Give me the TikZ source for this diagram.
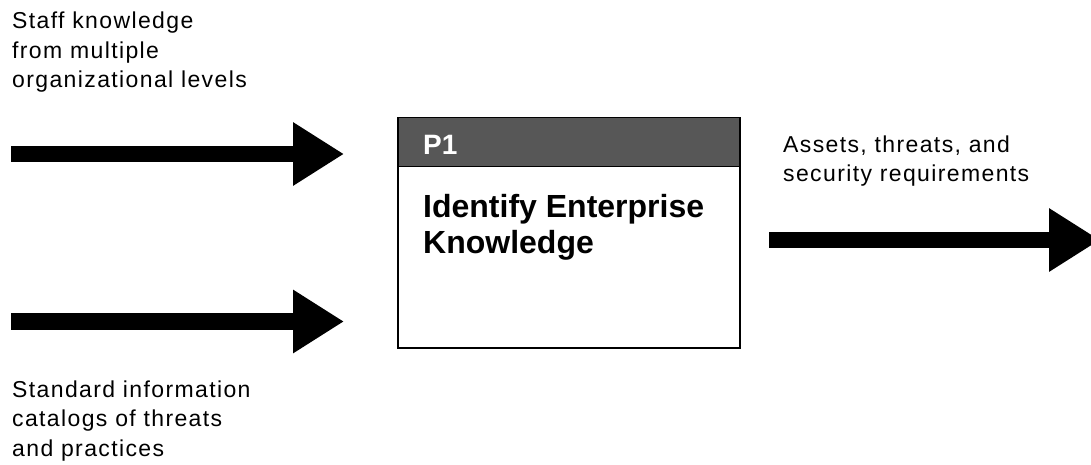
\documentclass[tikz,border=0pt]{standalone}
\usepackage{fontspec}
\setmainfont{Liberation Sans}
\newfontfamily\widesans[LetterSpace=6]{Liberation Sans}
\usetikzlibrary{arrows.meta,positioning}
\definecolor{hdrgray}{HTML}{575757}
\tikzset{
	flow/.style={line width=16.5pt, -{Triangle[length=51pt,width=60pt]}},
	note/.style={anchor=base west, align=left, inner sep=0pt, font=\widesans\fontsize{23}{29.5}\selectfont},
}

\begin{document}
\begin{tikzpicture}[x=1pt,y=-1pt]
		%%%%% START %%%%%
		\useasboundingbox (0,0) rectangle (1091,465);
		
		% process box
		\node[draw, line width=1.5pt, anchor=north west, inner sep=0pt, minimum width=342pt, minimum height=230pt] (proc) at (397,117) {};
		\node[draw, fill=hdrgray, line width=1.5pt, anchor=north west, inner sep=0pt, minimum width=342pt, minimum height=49pt] (hdr) at (proc.north west) {};
		\node[anchor=base west, inner sep=0pt, text=white, font=\bfseries\fontsize{28}{30}\selectfont] (pone) at (423,155) {P1};
		\node[anchor=base west, align=left, inner sep=0pt, font=\bfseries\fontsize{32}{36}\selectfont] (ptitle) at (423,253) {Identify Enterprise\\Knowledge};
		
		% inputs
		\coordinate (staff) at (11,154);
		\coordinate (stafftip) at (344,154);
		\draw[flow] (staff) -- (stafftip);
		\node[note] (stafftxt) at (12,88) {Staff knowledge\\from multiple\\organizational levels};
		
		\coordinate (cat) at (11,321.5);
		\coordinate (cattip) at (344,321.5);
		\draw[flow] (cat) -- (cattip);
		\node[note] (cattxt) at (12,456) {Standard information\\catalogs of threats\\and practices};
		
		% output
		\coordinate (out) at (769,240);
		\coordinate (outtip) at (1100,240);
		\draw[flow] (out) -- (outtip);
		\node[note] (outtxt) at (783,182) {Assets, threats, and\\security requirements};
		
		%%%%% END %%%%%
\end{tikzpicture}
\end{document}
